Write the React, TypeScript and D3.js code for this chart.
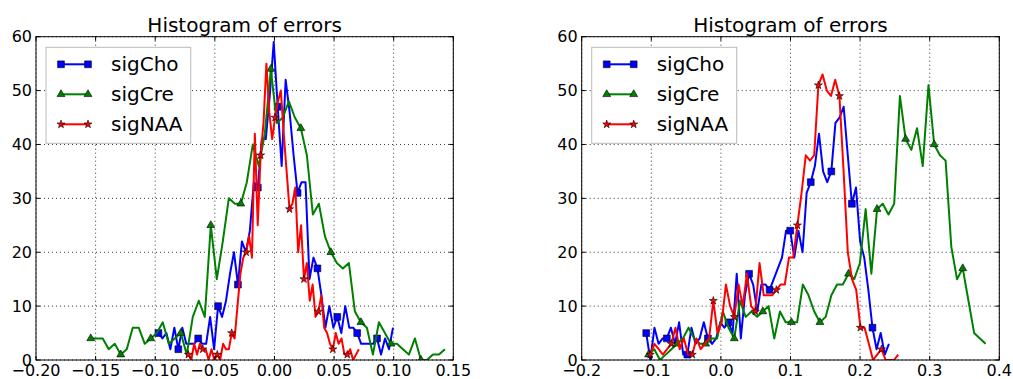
import React from "react";
import * as d3 from "d3";

// ---------- DATA ----------
const seriesNames = ["sigCho", "sigCre", "sigNAA"];
const seriesColors = ["#0000ff", "#008000", "#ff0000"];

const leftXTicks = [-0.2, -0.15, -0.1, -0.05, 0.0, 0.05, 0.1, 0.15];
const leftXLabels = ["\u22120.20", "\u22120.15", "\u22120.10", "\u22120.05", "0.00", "0.05", "0.10", "0.15"];
const rightXTicks = [-0.2, -0.1, 0.0, 0.1, 0.2, 0.3, 0.4];
const rightXLabels = ["\u22120.2", "\u22120.1", "0.0", "0.1", "0.2", "0.3", "0.4"];
const yTicks = [0, 10, 20, 30, 40, 50, 60];

// first / last bin centre of each histogram
const leftChoRange = [-0.0973, 0.0994];
const leftCreRange = [-0.1541, 0.143];
const leftNaaRange = [-0.0722, 0.0708];
const rightChoRange = [-0.1073, 0.2414];
const rightCreRange = [-0.1039, 0.3803];
const rightNaaRange = [-0.1015, 0.2548];

const leftCho = [
  5, 4, 5, 2, 6, 2, 6, 3, 3, 3,
  4, 3, 3, 8, 2, 10, 8, 11, 16, 20,
  14, 22, 20, 24, 33, 32, 41, 41, 49, 59,
  47, 36, 52, 46, 38, 31, 33, 33, 15, 19,
  17, 12, 6, 10, 6, 8, 5, 10, 6, 6,
  5, 3, 3, 3, 3, 4, 1, 4, 2, 6,
];
const leftCre = [
  4, 4, 4, 2, 3, 1, 2, 6, 6, 3,
  4, 5, 7, 3, 4, 5, 1, 8, 11, 8,
  25, 15, 22, 30, 29, 29, 33, 40, 36, 42,
  54, 44, 45, 48, 45, 43, 38, 27, 29, 23,
  20, 18, 17, 18, 9, 7, 6, 1, 7, 5,
  3, 3, 2, 1, 4, 0, 0, 1, 1, 2,
];
const leftNaa = [
  1, 0, 3, 1, 3, 2, 2, 0, 2, 0,
  1, 0, 3, 2, 2, 5, 4, 10, 16, 19,
  20, 23, 19, 42, 25, 38, 44, 55, 46, 41,
  45, 48, 50, 42, 35, 28, 29, 32, 20, 25,
  15, 18, 11, 14, 8, 9, 12, 6, 5, 3,
  2, 5, 3, 4, 1, 1, 2, 0, 1, 2,
];
const rightCho = [
  5, 0, 6, 3, 4, 4, 6, 3, 7, 1,
  1, 6, 3, 4, 7, 4, 3, 4, 7, 6,
  7, 5, 16, 4, 12, 16, 14, 9, 14, 14,
  13, 15, 17, 19, 24, 24, 19, 24, 20, 31,
  33, 36, 42, 35, 33, 35, 44, 45, 47, 38,
  29, 32, 22, 19, 13, 6, 2, 5, 1, 3,
];
const rightCre = [
  1, 2, 0, 1, 2, 3, 4, 6, 4, 3,
  3, 4, 4, 9, 6, 4, 11, 8, 9, 8,
  9, 10, 4, 9, 7, 7, 7, 14, 12, 9,
  7, 8, 12, 14, 14, 16, 15, 18, 28, 16,
  28, 29, 27, 29, 49, 41, 39, 43, 36, 51,
  40, 38, 37, 21, 15, 17, 11, 5, 4, 3,
];
const rightNaa = [
  1, 3, 2, 1, 2, 3, 6, 2, 4, 1,
  1, 4, 2, 3, 4, 11, 5, 7, 14, 10,
  8, 14, 10, 16, 10, 9, 18, 12, 12, 12,
  13, 14, 14, 19, 19, 25, 31, 38, 37, 38,
  51, 53, 50, 49, 52, 49, 35, 20, 15, 13,
  6, 6, 3, 0, 1, 2, 0, 0, 0, 1,
];

// ---------- LAYOUT ----------
const W = 1013;
const H = 379;
const FONT = "DejaVu Sans";
const symbols = [d3.symbolSquare, d3.symbolTriangle, d3.symbolStar];
const symbolSizes = [46, 27, 20];
const MARK_EVERY = 5;

type Series = { range: number[]; values: number[] };

function binPoints(s: Series): [number, number][] {
  const n = s.values.length;
  const x = d3.scaleLinear().domain([0, n - 1]).range(s.range);
  return s.values.map((v, i) => [x(i), v]);
}

function Panel(props: {
  left: number;
  right: number;
  top: number;
  bottom: number;
  xDomain: [number, number];
  xTicks: number[];
  xLabels: string[];
  series: Series[];
  legendBox: [number, number, number, number];
}) {
  const { left, right, top, bottom, xDomain, xTicks, xLabels, series, legendBox } = props;
  const x = d3.scaleLinear().domain(xDomain).range([left, right]);
  const y = d3.scaleLinear().domain([0, 60]).range([bottom, top]);
  const line = d3
    .line<[number, number]>()
    .x((d) => x(d[0]))
    .y((d) => y(d[1]));
  const tickLen = 4;
  const [lx, ly, lw, lh] = legendBox;
  return (
    <g>
      <defs>
        <clipPath id={`clip${left}`}>
          <rect x={left} y={top} width={right - left} height={bottom - top} />
        </clipPath>
      </defs>
      <rect x={left} y={top} width={right - left} height={bottom - top} fill="#fff" />
      {/* grid */}
      {xTicks.map((t, i) => (
        <line key={"gx" + i} x1={x(t)} x2={x(t)} y1={top} y2={bottom} stroke="#000" strokeWidth={0.8} strokeDasharray="1,3" />
      ))}
      {yTicks.map((t, i) => (
        <line key={"gy" + i} x1={left} x2={right} y1={y(t)} y2={y(t)} stroke="#000" strokeWidth={0.8} strokeDasharray="1,3" />
      ))}
      {/* series */}
      <g clipPath={`url(#clip${left})`}>
        {series.map((s, si) => {
          const pts = binPoints(s);
          return (
            <g key={"s" + si}>
              <path d={line(pts) || ""} fill="none" stroke={seriesColors[si]} strokeWidth={2} strokeLinejoin="round" />
              {pts
                .filter((_, i) => i % MARK_EVERY === 0)
                .map((p, i) => (
                  <path
                    key={i}
                    transform={`translate(${x(p[0])},${y(p[1])})`}
                    d={d3.symbol().type(symbols[si]).size(symbolSizes[si])() || ""}
                    fill={seriesColors[si]}
                    stroke="#000"
                    strokeWidth={0.6}
                  />
                ))}
            </g>
          );
        })}
      </g>
      {/* frame */}
      <rect x={left} y={top} width={right - left} height={bottom - top} fill="none" stroke="#000" strokeWidth={1} />
      {/* ticks */}
      {xTicks.map((t, i) => (
        <g key={"tx" + i}>
          <line x1={x(t)} x2={x(t)} y1={bottom} y2={bottom - tickLen} stroke="#000" />
          <line x1={x(t)} x2={x(t)} y1={top} y2={top + tickLen} stroke="#000" />
          <text x={x(t)} y={376} textAnchor="middle" fontFamily={FONT} fontSize={16} fill="#000">
            {xLabels[i]}
          </text>
        </g>
      ))}
      {yTicks.map((t, i) => (
        <g key={"ty" + i}>
          <line x1={left} x2={left + tickLen} y1={y(t)} y2={y(t)} stroke="#000" />
          <line x1={right} x2={right - tickLen} y1={y(t)} y2={y(t)} stroke="#000" />
          <text x={left - 4} y={y(t)} dy="0.36em" textAnchor="end" fontFamily={FONT} fontSize={16} fill="#000">
            {t}
          </text>
        </g>
      ))}
      {/* title */}
      <text x={(left + right) / 2} y={32} textAnchor="middle" fontFamily={FONT} fontSize={20} fill="#000">
        Histogram of errors
      </text>
      {/* legend */}
      <rect x={lx} y={ly} width={lw} height={lh} fill="#fff" stroke="#bbb" strokeWidth={1} />
      {seriesNames.map((name, i) => {
        const cy = ly + 17 + i * 30;
        const x1 = lx + 15;
        const x2 = lx + 42;
        return (
          <g key={"lg" + i}>
            <line x1={x1} x2={x2} y1={cy} y2={cy} stroke={seriesColors[i]} strokeWidth={2} />
            {[x1, x2].map((mx, k) => (
              <path
                key={k}
                transform={`translate(${mx},${cy})`}
                d={d3.symbol().type(symbols[i]).size(symbolSizes[i])() || ""}
                fill={seriesColors[i]}
                stroke="#000"
                strokeWidth={0.6}
              />
            ))}
            <text x={lx + 65} y={cy + 7} fontFamily={FONT} fontSize={20} fill="#000">
              {name}
            </text>
          </g>
        );
      })}
    </g>
  );
}

export default function App() {
  return (
    <svg width={W} height={H} style={{ position: "absolute", left: 0, top: 0, background: "#fff" }}>
      <rect x={0} y={0} width={W} height={H} fill="#fff" />
      <Panel
        left={36}
        right={453.3}
        top={36.7}
        bottom={360}
        xDomain={[-0.2, 0.15]}
        xTicks={leftXTicks}
        xLabels={leftXLabels}
        series={[
          { range: leftChoRange, values: leftCho },
          { range: leftCreRange, values: leftCre },
          { range: leftNaaRange, values: leftNaa },
        ]}
        legendBox={[46, 47.3, 144.7, 96]}
      />
      <Panel
        left={581.7}
        right={999.3}
        top={36.7}
        bottom={360}
        xDomain={[-0.2, 0.4]}
        xTicks={rightXTicks}
        xLabels={rightXLabels}
        series={[
          { range: rightChoRange, values: rightCho },
          { range: rightCreRange, values: rightCre },
          { range: rightNaaRange, values: rightNaa },
        ]}
        legendBox={[591.7, 47.3, 145, 96]}
      />
    </svg>
  );
}
